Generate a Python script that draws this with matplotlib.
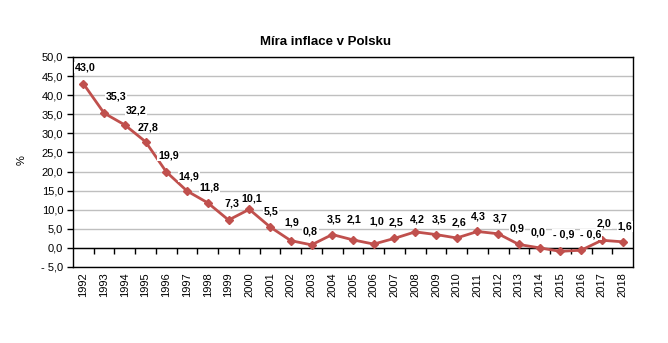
import matplotlib
matplotlib.use("Agg")
import matplotlib.pyplot as plt
from matplotlib.ticker import FuncFormatter, MultipleLocator
from matplotlib import markers
import numpy as np

plt.rcParams['font.family'] = ['Liberation Sans', 'DejaVu Sans']

years = list(range(1992, 2019))
inflation = [43.0, 35.3, 32.2, 27.8, 19.9, 14.9, 11.8, 7.3, 10.1, 5.5, 1.9, 0.8, 3.5, 2.1,
             1.0, 2.5, 4.2, 3.5, 2.6, 4.3, 3.7, 0.9, 0.0, -0.9, -0.6, 2.0, 1.6]
title = "Míra inflace v Polsku"
ylabel = "%"

# label offsets in pixels (dx, dy) relative to points
label_dx = [2, 12, 11, 2, 2, 2, 2, 3, 2, 1, 1, -1, 2, 1, 3, 2, 2, 3, 2, 1, 2, -2, -2, 3, 10, 2, 2]
label_dy = [16, 17, 14, 14, 16, 15, 15, 17, 11, 15, 18, 13, 15, 20, 23, 16, 12, 15, 15, 15, 15, 16, 15, 17, 16, 17, 15]

W, H = 668, 343
fig = plt.figure(figsize=(W / 100, H / 100), dpi=100)
ax = fig.add_axes([73 / W, 1 - 267 / H, (633 - 73) / W, (267 - 57) / H])

red = '#C0504D'
x = np.array(years)
ax.plot(x, inflation, color=red, lw=2, marker='D', markersize=4.5,
        markerfacecolor=red, markeredgecolor=red, zorder=4)

def fmt_val(v):
    s = f"{abs(v):.1f}".replace('.', ',')
    return ("- " + s) if v < 0 else s

px = 72 / 100  # points per pixel
for xi, v, dx, dy in zip(x, inflation, label_dx, label_dy):
    ax.annotate(fmt_val(v), (xi, v), xytext=(dx * px, dy * px), textcoords='offset points',
                ha='center', va='center', fontsize=7.7, fontweight='bold', color='black',
                bbox=dict(boxstyle='square,pad=0.05', fc='white', ec='none'), zorder=5)

ax.set_xlim(years[0] - 0.5, years[-1] + 0.5)
ax.set_ylim(-5, 50)
ax.yaxis.set_major_locator(MultipleLocator(5))
ax.yaxis.set_major_formatter(FuncFormatter(lambda v, p: fmt_val(v)))
ax.grid(axis='y', color='#BFBFBF', lw=1, zorder=1)
ax.set_axisbelow(True)

ax.set_xticks(x)
ax.set_xticklabels([str(y) for y in years], rotation=90, fontsize=8)
ax.tick_params(axis='x', length=0, pad=4)
ax.tick_params(axis='y', length=4, width=1, labelsize=8, direction='out', pad=3)

ax.axhline(0, color='black', lw=1, zorder=3)
half = x[:-1] + 0.5
ax.plot(half, np.zeros_like(half, dtype=float), linestyle='none', marker=markers.TICKDOWN,
        markersize=4, color='black', markeredgewidth=1, zorder=3, clip_on=False)

for s in ax.spines.values():
    s.set_color('black')
    s.set_linewidth(1)

fig.text(326 / W, 1 - 42 / H, title, ha='center', va='center', fontsize=9.5, fontweight='bold')
fig.text(22 / W, 1 - 160 / H, ylabel, ha='center', va='center', rotation=90, fontsize=8)

fig.savefig('out.png', dpi=100)
